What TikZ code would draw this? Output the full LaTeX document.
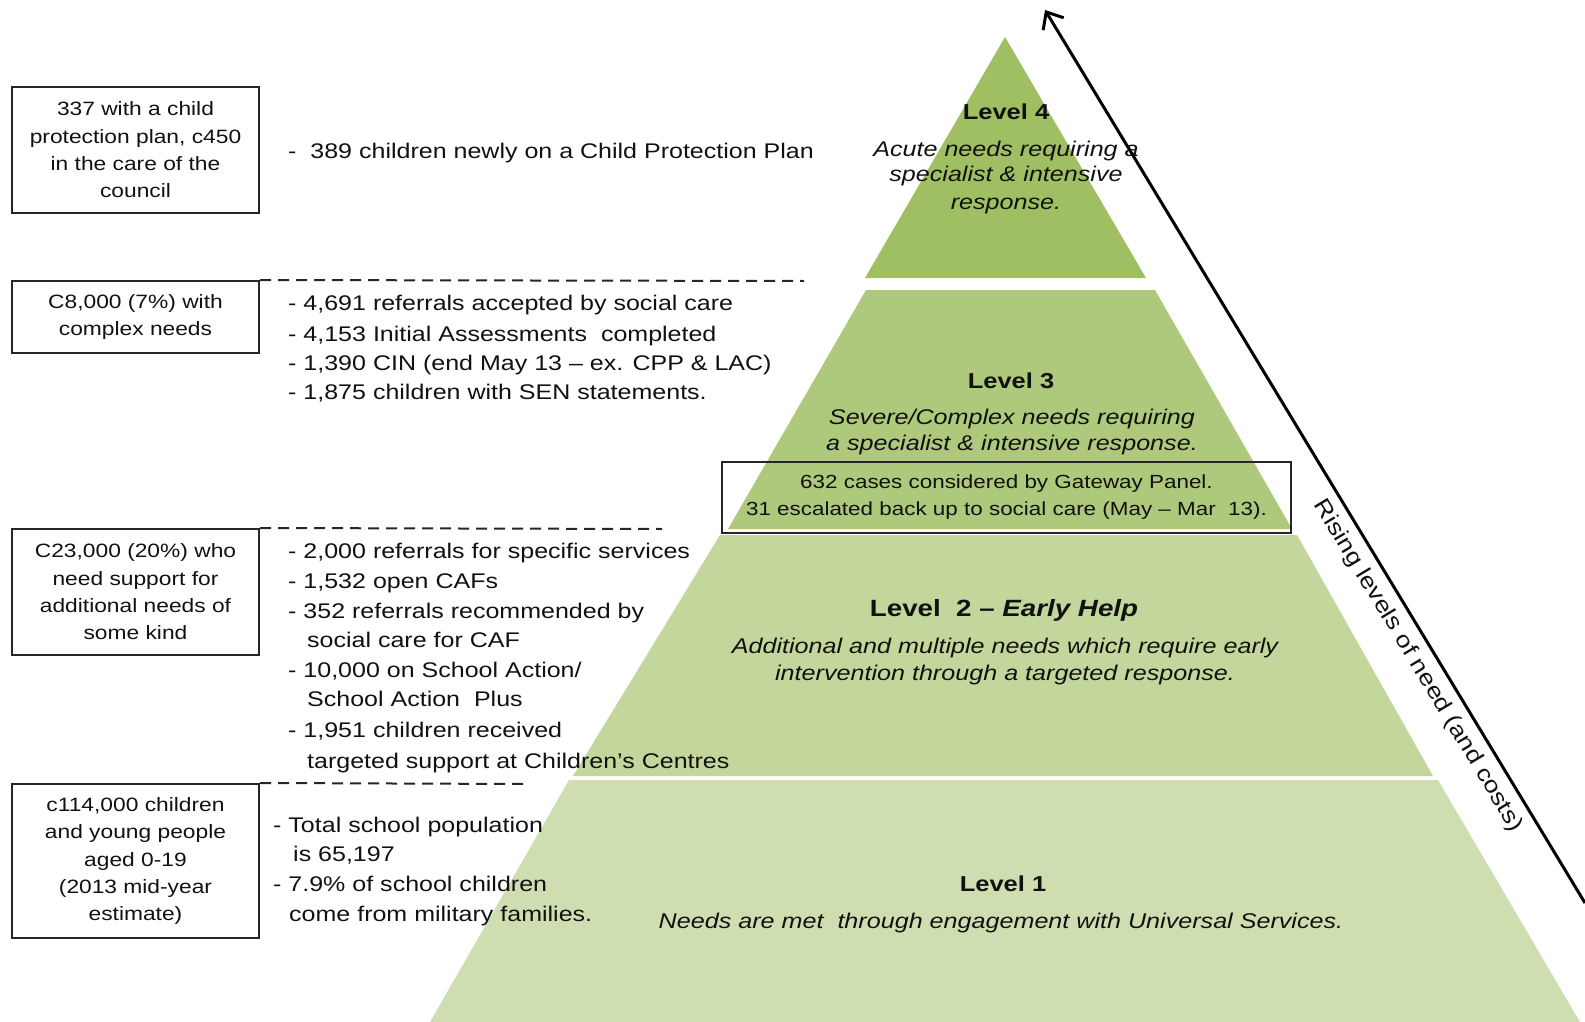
\documentclass[tikz,border=0pt]{standalone}
\usepackage{fontspec}
\setmainfont{Liberation Sans}[FakeStretch=1.18]
\usetikzlibrary{arrows.meta}
\definecolor{gfour}{HTML}{A0BF62}
\definecolor{gthree}{HTML}{AEC87C}
\definecolor{gtwo}{HTML}{C3D69B}
\definecolor{gone}{HTML}{CFDEB0}
\definecolor{txt}{HTML}{111111}
\tikzset{
  infobox/.style={draw=black!85, line width=2pt, minimum width=247pt, align=center, inner sep=0pt,
     font=\fontsize{19.3}{27.3}\selectfont, text=txt},
  listtxt/.style={anchor=base west, inner sep=0pt, font=\fontsize{21.2}{24}\selectfont, text=txt},
  ctitle/.style={anchor=base, inner sep=0pt, font=\fontsize{21.6}{26}\selectfont\bfseries, text=txt},
  citalic/.style={anchor=base, inner sep=0pt, font=\fontsize{21.3}{25}\selectfont\itshape, text=txt},
  dashline/.style={line width=2pt, dash pattern=on 11pt off 7pt, black!85},
}
\begin{document}
\begin{tikzpicture}[x=1pt,y=-1pt]
\useasboundingbox (0,0) rectangle (1585,1022);
% pyramid bands
\fill[gone]  (569,780) -- (1438,780) -- (1580,1022) -- (430,1022) -- cycle;
\fill[gtwo]  (720,535) -- (1297,535) -- (1433,776) -- (573,776) -- cycle;
\fill[gthree](866,290) -- (1155,290) -- (1292,529) -- (728,529) -- cycle;
\fill[gfour] (1005,37) -- (1146,278) -- (865,278) -- cycle;

% arrow
\coordinate (atip) at (1045,10);
\coordinate (abot) at (1585,903);
\draw[line width=3pt, -{Straight Barb[length=14pt,width=24pt,line width=3pt]}] (abot) -- (atip);
\node[inner sep=0pt, rotate=-58.9, font=\fontsize{22.5}{25}\selectfont, text=txt] (rise) at (1418,666) {Rising levels of need (and costs)};

% left boxes
\node[infobox, minimum height=126pt] (b1) at (135.5,150) {337 with a child\\protection plan, c450\\in the care of the\\council};
\node[infobox, minimum height=72pt] (b2) at (135.5,317) {C8,000 (7\%) with\\complex needs};
\node[infobox, minimum height=126pt] (b3) at (135.5,592) {C23,000 (20\%) who\\need support for\\additional needs of\\some kind};
\node[infobox, minimum height=154pt] (b4) at (135.5,861) {c114,000 children\\and young people\\aged 0-19\\(2013 mid-year\\estimate)};

% dashed separators
\coordinate (d1e) at (804,281);
\coordinate (d2e) at (662,529);
\coordinate (d3e) at (528,784);
\draw[dashline] (b2.north east) -- (d1e);
\draw[dashline] (b3.north east) -- (d2e);
\draw[dashline] (b4.north east) -- (d3e);

% lists
\node[listtxt] (t1) at (288,159) {-\ \ 389 children newly on a Child Protection Plan};

\node[listtxt] (t2a) at (288,310) {- 4,691 referrals accepted by social care};
\node[listtxt] (t2b) at (288,341) {- 4,153 Initial Assessments\ \ completed};
\node[listtxt] (t2c) at (288,370) {- 1,390 CIN (end May 13 -- ex. CPP \& LAC)};
\node[listtxt] (t2d) at (288,399) {- 1,875 children with SEN statements.};

\node[listtxt] (t3a) at (288,558) {- 2,000 referrals for specific services};
\node[listtxt] (t3b) at (288,588) {- 1,532 open CAFs};
\node[listtxt] (t3c) at (288,618) {- 352 referrals recommended by};
\node[listtxt] (t3d) at (307,647) {social care for CAF};
\node[listtxt] (t3e) at (288,677) {- 10,000 on School Action/};
\node[listtxt] (t3f) at (307,706) {School Action\ \ Plus};
\node[listtxt] (t3g) at (288,737) {- 1,951 children received};
\node[listtxt] (t3h) at (307,768) {targeted support at Children's Centres};

\node[listtxt] (t4a) at (273,832) {- Total school population};
\node[listtxt] (t4b) at (293,861) {is 65,197};
\node[listtxt] (t4c) at (273,891) {- 7.9\% of school children};
\node[listtxt] (t4d) at (289,921) {come from military families.};

% level texts
\node[ctitle] (l4) at (1006,120) {Level 4};
\node[citalic] (l4a) at (1006,157) {Acute needs requiring a};
\node[citalic] (l4b) at (1006,182) {specialist \& intensive};
\node[citalic] (l4c) at (1006,209) {response.};

\node[ctitle] (l3) at (1011,388) {Level 3};
\node[citalic] (l3a) at (1012,424) {Severe/Complex needs requiring};
\node[citalic] (l3b) at (1012,450) {a specialist \& intensive response.};

\node[draw=black!85, line width=2pt, minimum width=569pt, minimum height=71pt, inner sep=0pt, align=center,
      font=\fontsize{19}{27}\selectfont, text=txt] (gw) at (1006.5,497.5)
      {632 cases considered by Gateway Panel.\\31 escalated back up to social care (May -- Mar\ \ 13).};

\node[ctitle, font=\fontsize{23.5}{30}\selectfont\bfseries] (l2) at (1004,616) {Level\ \ 2 -- \textit{Early Help}};
\node[citalic] (l2a) at (1005,653) {Additional and multiple needs which require early};
\node[citalic] (l2b) at (1005,680) {intervention through a targeted response.};

\node[ctitle] (l1) at (1003,891) {Level 1};
\node[citalic] (l1a) at (1001,928) {Needs are met\ \ through engagement with Universal Services.};
\end{tikzpicture}
\end{document}
